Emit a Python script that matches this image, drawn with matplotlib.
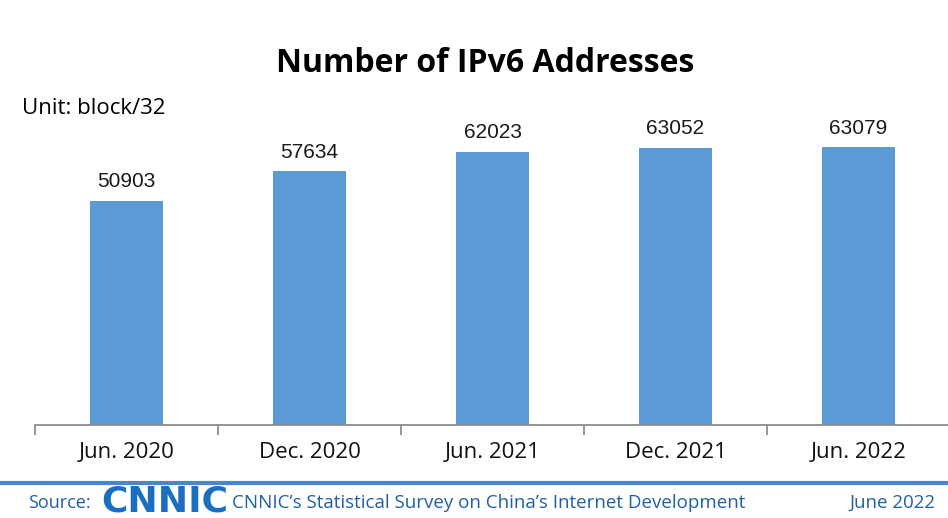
import matplotlib as mpl
mpl.use('Agg')
import matplotlib.pyplot as plt
import numpy as np

periods = ['Jun. 2020', 'Dec. 2020', 'Jun. 2021', 'Dec. 2021', 'Jun. 2022']
addresses = [50903, 57634, 62023, 63052, 63079]

W, H = 948, 518
fig = plt.figure(figsize=(W / 100, H / 100), dpi=100)
fig.patch.set_facecolor('white')

ax = fig.add_axes([35 / W, (H - 425) / H, 915 / W, 308 / H])
ax.set_facecolor('none')
x = np.arange(len(periods))
ax.bar(x, addresses, width=0.4, color='#5b9bd5', zorder=2)
for xi, v in zip(x, addresses):
    ax.text(xi, v + 2200, str(v), ha='center', va='bottom', fontsize=15,
            family='Liberation Sans', color='#1a1a1a')

ax.set_xlim(-0.5, len(periods) - 0.5)
ax.set_ylim(0, 70000)
ax.set_yticks([])
for s in ['left', 'right', 'top']:
    ax.spines[s].set_visible(False)
ax.spines['bottom'].set_color('#8c8c8c')
ax.spines['bottom'].set_linewidth(1.3)
ax.set_xticks(x)
ax.set_xticklabels(periods, fontsize=16, family='Open Sans', color='#111111')
ax.tick_params(axis='x', which='major', length=0, pad=12)
ax.set_xticks(np.arange(-0.5, len(periods)), minor=True)
ax.tick_params(axis='x', which='minor', length=7, width=1.3, color='#8c8c8c', direction='out')

fig.text(485 / W, 1 - 64 / H, 'Number of IPv6 Addresses', ha='center', va='center',
         fontsize=23, fontweight='bold', family='Open Sans', color='black')
fig.text(22 / W, 1 - 108 / H, 'Unit: block/32', ha='left', va='center',
         fontsize=16, family='Open Sans', color='black')

# footer
fig.add_artist(plt.Line2D([0, 1], [1 - 483 / H, 1 - 483 / H], color='#4a86d0', linewidth=3))
fig.text(28 / W, 1 - 503 / H, 'Source:', ha='left', va='center', fontsize=13,
         family='Open Sans', color='#1f5fa8')
fig.text(101 / W, 1 - 502 / H, 'CNNIC', ha='left', va='center', fontsize=26,
         fontweight='heavy', family='DejaVu Sans', color='#1a6fc0')
fig.text(232 / W, 1 - 503 / H, 'CNNIC\u2019s Statistical Survey on China\u2019s Internet Development',
         ha='left', va='center', fontsize=13.5, family='Open Sans', color='#1f5fa8')
fig.text(935 / W, 1 - 503 / H, 'June 2022', ha='right', va='center', fontsize=13.5,
         family='Open Sans', color='#1f5fa8')

plt.savefig('out.png', dpi=100)
plt.close()
